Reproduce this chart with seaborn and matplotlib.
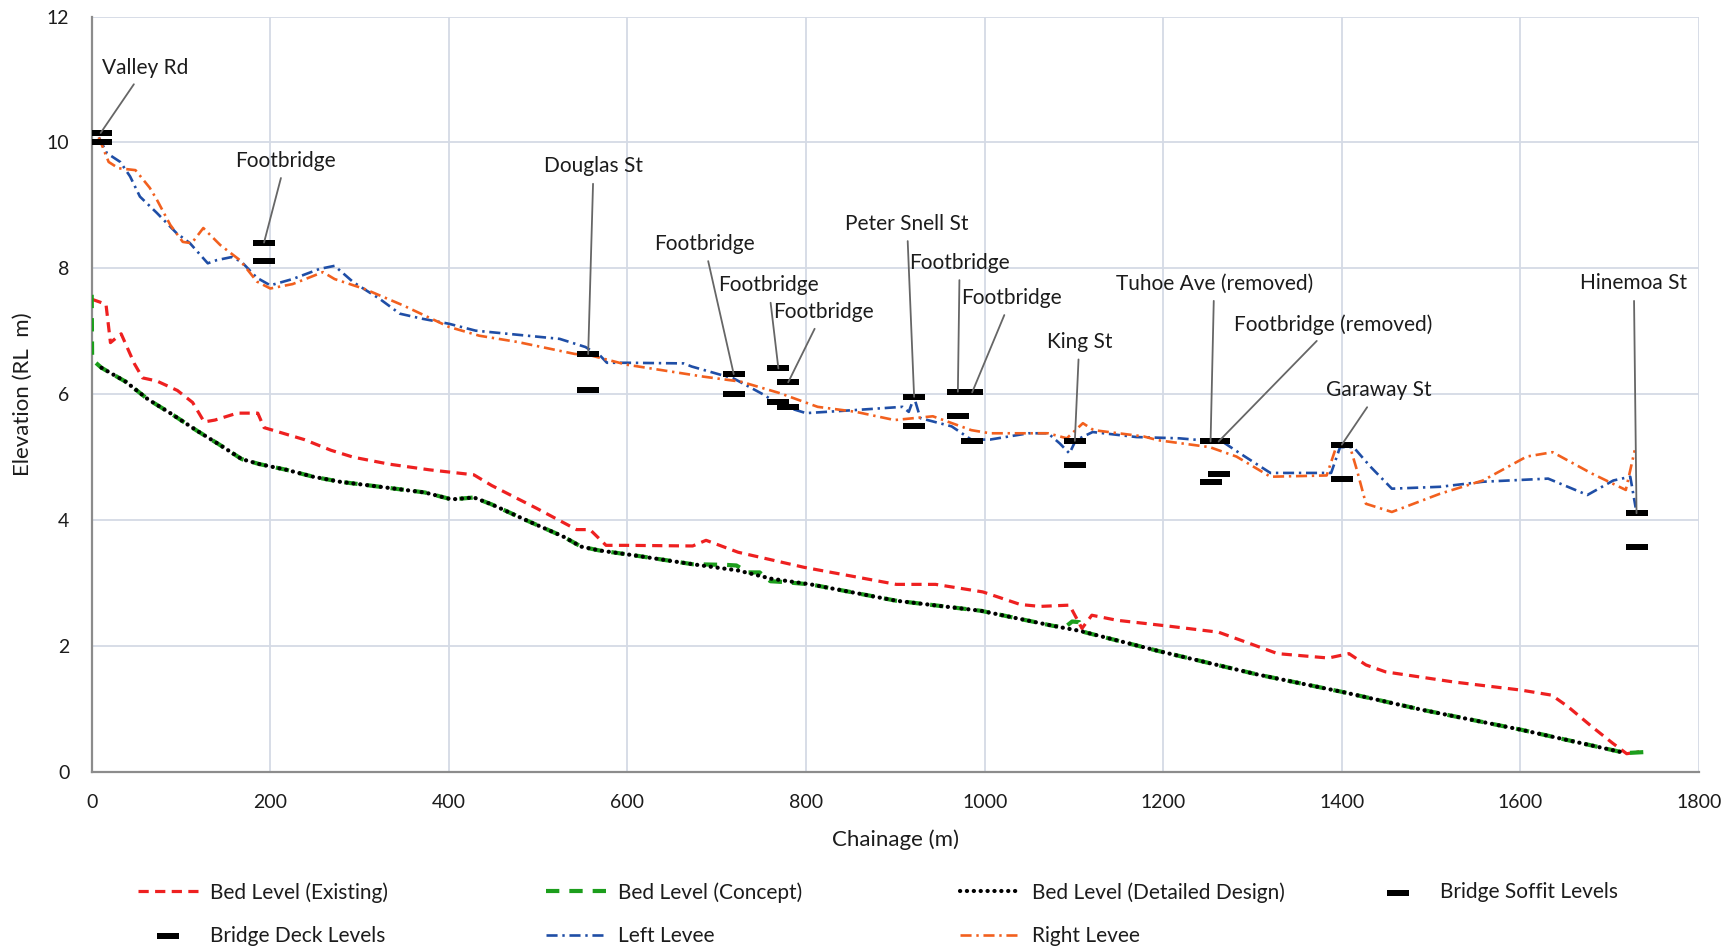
import matplotlib
matplotlib.use("Agg")
import matplotlib.pyplot as plt
import seaborn as sns
from matplotlib.path import Path

# ---- Long section data (chainage in m, elevation in RL m) ----
existing_x = [0, 16, 21, 33, 48, 57, 73, 96, 113, 126, 138, 163, 186, 193, 238, 268,
              293, 333, 378, 428, 448, 498, 543, 558, 576, 598, 673, 688, 724, 798,
              901, 945, 998, 1040, 1062, 1095, 1109, 1120, 1148, 1204, 1262, 1297,
              1328, 1385, 1408, 1427, 1449, 1525, 1601, 1635, 1653, 1680, 1703,
              1719, 1733]
existing_y = [7.51, 7.43, 6.82, 6.96, 6.48, 6.26, 6.21, 6.06, 5.87, 5.56, 5.59, 5.70,
              5.70, 5.47, 5.28, 5.11, 5.00, 4.89, 4.80, 4.72, 4.55, 4.19, 3.85, 3.85,
              3.60, 3.60, 3.59, 3.68, 3.49, 3.25, 2.98, 2.98, 2.86, 2.66, 2.63, 2.65,
              2.28, 2.49, 2.41, 2.32, 2.22, 2.04, 1.88, 1.81, 1.88, 1.70, 1.59, 1.43,
              1.30, 1.22, 1.04, 0.72, 0.46, 0.29, 0.32]

concept_x = [0, 0.5, 11, 38, 63, 88, 118, 143, 168, 188, 218, 248, 278, 323, 373,
             403, 428, 448, 488, 528, 548, 568, 608, 673, 710, 722, 735, 748, 760,
             772, 805, 901, 996, 1077, 1090, 1098, 1106, 1112, 1195, 1305, 1401,
             1489, 1601, 1718, 1744]
concept_y = [7.58, 6.55, 6.42, 6.20, 5.92, 5.70, 5.42, 5.20, 4.97, 4.89, 4.80, 4.69,
             4.61, 4.53, 4.44, 4.33, 4.36, 4.25, 3.99, 3.74, 3.58, 3.52, 3.44, 3.30,
             3.29, 3.28, 3.17, 3.17, 3.03, 3.02, 2.98, 2.72, 2.56, 2.32, 2.30, 2.39,
             2.38, 2.22, 1.92, 1.55, 1.27, 0.99, 0.67, 0.30, 0.32]

design_x = [11, 38, 63, 88, 118, 143, 168, 188, 218, 248, 278, 323, 373, 403, 428,
            448, 488, 528, 548, 568, 608, 673, 724, 761, 805, 901, 996, 1077, 1107,
            1195, 1305, 1401, 1489, 1601, 1718]
design_y = [6.42, 6.20, 5.92, 5.70, 5.42, 5.20, 4.97, 4.89, 4.80, 4.69, 4.61, 4.53,
            4.44, 4.33, 4.36, 4.25, 3.99, 3.74, 3.58, 3.52, 3.44, 3.30, 3.20, 3.07,
            2.98, 2.72, 2.56, 2.32, 2.24, 1.92, 1.55, 1.27, 0.99, 0.67, 0.30]

left_levee_x = [8, 17, 32, 43, 54, 73, 95, 110, 120, 130, 140, 157, 168, 185, 200,
                225, 255, 272, 293, 323, 345, 370, 400, 430, 524, 553, 562, 569, 577,
                599, 663, 672, 719, 753, 770, 800, 856, 908, 915, 921, 928, 963, 985,
                1006, 1049, 1071, 1084, 1095, 1102, 1121, 1170, 1218, 1267, 1286,
                1320, 1388, 1398, 1413, 1432, 1456, 1510, 1558, 1631, 1675, 1704,
                1723, 1729]
left_levee_y = [10.08, 9.83, 9.69, 9.46, 9.14, 8.88, 8.56, 8.40, 8.24, 8.08, 8.13,
                8.18, 8.10, 7.85, 7.73, 7.83, 7.99, 8.04, 7.78, 7.51, 7.28, 7.20,
                7.12, 7.01, 6.88, 6.75, 6.67, 6.62, 6.50, 6.50, 6.49, 6.44, 6.25,
                5.99, 5.83, 5.70, 5.75, 5.80, 5.72, 5.95, 5.62, 5.49, 5.28, 5.28,
                5.38, 5.38, 5.22, 5.06, 5.27, 5.40, 5.32, 5.30, 5.24, 5.06, 4.75,
                4.75, 5.16, 5.16, 4.85, 4.50, 4.53, 4.61, 4.66, 4.40, 4.63, 4.69,
                4.20]

right_levee_x = [8, 19, 30, 49, 65, 73, 88, 102, 112, 125, 144, 166, 185, 200, 225,
                 259, 272, 306, 349, 400, 434, 477, 541, 558, 599, 685, 727, 770, 813,
                 856, 899, 942, 985, 1006, 1071, 1092, 1110, 1122, 1178, 1194, 1252,
                 1282, 1320, 1383, 1395, 1408, 1417, 1427, 1456, 1510, 1558, 1607,
                 1636, 1680, 1718, 1728]
right_levee_y = [10.08, 9.69, 9.59, 9.56, 9.28, 9.09, 8.69, 8.42, 8.40, 8.64, 8.37,
                 8.13, 7.79, 7.68, 7.75, 7.94, 7.83, 7.67, 7.41, 7.07, 6.93, 6.83,
                 6.64, 6.62, 6.47, 6.28, 6.20, 6.02, 5.80, 5.72, 5.59, 5.65, 5.43,
                 5.38, 5.38, 5.30, 5.54, 5.43, 5.33, 5.27, 5.16, 5.01, 4.69, 4.71,
                 5.22, 5.22, 4.79, 4.26, 4.13, 4.42, 4.63, 5.01, 5.08, 4.74, 4.48,
                 5.11]

# ---- Bridges ----
bridge_names = ["Valley Rd", "Footbridge", "Douglas St", "Footbridge", "Footbridge",
                "Footbridge", "Peter Snell St", "Footbridge", "Footbridge", "King St",
                "Tuhoe Ave (removed)", "Footbridge (removed)", "Garaway St",
                "Hinemoa St"]
bridge_x = [10, 193, 556, 719, 769, 780, 921, 970, 986, 1101, 1253, 1262, 1400, 1730]
deck_levels = [10.15, 8.41, 6.64, 6.32, 6.41, 6.19, 5.96, 6.04, 6.03, 5.26, 5.25,
               5.25, 5.20, 4.11]
soffit_levels = [10.00, 8.11, 6.07, 6.00, 5.88, 5.79, 5.50, 5.66, 5.26, 4.87, 4.61,
                 4.74, 4.65, 3.58]

# label placement for the bridge call-outs (chainage, elevation)
label_pos = [(60, 11.19), (217, 9.71), (562, 9.62), (686, 8.39), (758, 7.73),
             (819, 7.31), (913, 8.71), (972, 8.09), (1030, 7.53), (1106, 6.83),
             (1257, 7.76), (1390, 7.11), (1441, 6.06), (1727, 7.76)]

x_ticks = list(range(0, 1801, 200))
y_ticks = list(range(0, 13, 2))

# ---- Style ----
sns.set_style("white")
plt.rcParams["font.family"] = ["Lato", "DejaVu Sans"]
TEXT = "#1c1c1c"

fig = plt.figure(figsize=(17.3, 9.5), dpi=100)
ax = fig.add_axes([0.053, 0.1874, 0.9291, 0.7952])

line_kw = dict(ax=ax, sort=False, estimator=None, legend=False)

sns.lineplot(x=existing_x, y=existing_y, color="#ee2020", linewidth=2.3,
             linestyle=(0, (3.2, 2.0)), label="Bed Level (Existing)", zorder=3,
             **line_kw)
sns.lineplot(x=concept_x, y=concept_y, color="#1c9e1c", linewidth=3.0,
             linestyle=(0, (3.2, 2.4)), label="Bed Level (Concept)", zorder=3,
             **line_kw)
sns.lineplot(x=design_x, y=design_y, color="black", linewidth=3.0,
             linestyle=(0, (0.05, 1.6)), dash_capstyle="round",
             label="Bed Level (Detailed Design)", zorder=4, **line_kw)
sns.lineplot(x=left_levee_x, y=left_levee_y, color="#1f4ea6", linewidth=1.9,
             linestyle=(0, (4.2, 1.8, 0.9, 1.8)), label="Left Levee", zorder=3,
             **line_kw)
sns.lineplot(x=right_levee_x, y=right_levee_y, color="#f2601e", linewidth=1.9,
             linestyle=(0, (4.2, 1.8, 0.9, 1.8)), label="Right Levee", zorder=3,
             **line_kw)

# flat bar marker for bridge levels
bar = Path([(-1, -0.28), (1, -0.28), (1, 0.28), (-1, 0.28), (-1, -0.28)],
           [Path.MOVETO, Path.LINETO, Path.LINETO, Path.LINETO, Path.CLOSEPOLY])
sns.scatterplot(x=bridge_x, y=soffit_levels, marker=bar, s=250, color="black",
                linewidth=0, label="Bridge Soffit Levels", zorder=6, ax=ax,
                legend=False)
sns.scatterplot(x=bridge_x, y=deck_levels, marker=bar, s=250, color="black",
                linewidth=0, label="Bridge Deck Levels", zorder=6, ax=ax,
                legend=False)

# call-outs
for name, bx, bz, (lx, ly) in zip(bridge_names, bridge_x, deck_levels, label_pos):
    ax.annotate(name, xy=(bx, bz), xytext=(lx, ly), textcoords="data",
                ha="center", va="center", fontsize=15, color=TEXT, zorder=7,
                arrowprops=dict(arrowstyle="-", color="#666666", lw=1.3,
                                shrinkA=3, shrinkB=0))

# axes
ax.set_xlim(0, 1800)
ax.set_ylim(0, 12)
ax.set_xticks(x_ticks)
ax.set_yticks(y_ticks)
ax.grid(True, color="#d4dae5", linewidth=1.3)
ax.set_axisbelow(True)
for side in ("top", "right"):
    ax.spines[side].set_visible(False)
for side in ("left", "bottom"):
    ax.spines[side].set_color("#8c8c8c")
    ax.spines[side].set_linewidth(1.6)
ax.tick_params(axis="both", length=0, labelsize=14, labelcolor=TEXT)
ax.tick_params(axis="x", pad=16)
ax.tick_params(axis="y", pad=16)
ax.set_xlabel("Chainage (m)", fontsize=16, color=TEXT, labelpad=13)
ax.set_ylabel("Elevation (RL  m)", fontsize=16, color=TEXT, labelpad=10)

# legend laid out in fixed-width columns
handles, labels = ax.get_legend_handles_labels()
lookup = dict(zip(labels, handles))
columns = [["Bed Level (Existing)", "Bridge Deck Levels"],
           ["Bed Level (Concept)", "Left Levee"],
           ["Bed Level (Detailed Design)", "Right Levee"],
           ["Bridge Soffit Levels"]]
col_left = [138, 546, 960, 1368]
for labs, cx in zip(columns, col_left):
    fig.legend([lookup[l] for l in labs], labs, loc="upper left",
               bbox_to_anchor=(cx / 1730, 1 - 882 / 950), frameon=False,
               fontsize=15, handlelength=2.9, handletextpad=0.55,
               labelspacing=1.12, borderpad=0, borderaxespad=0,
               labelcolor=TEXT)

fig.savefig("out.png", dpi=100, facecolor="white")
